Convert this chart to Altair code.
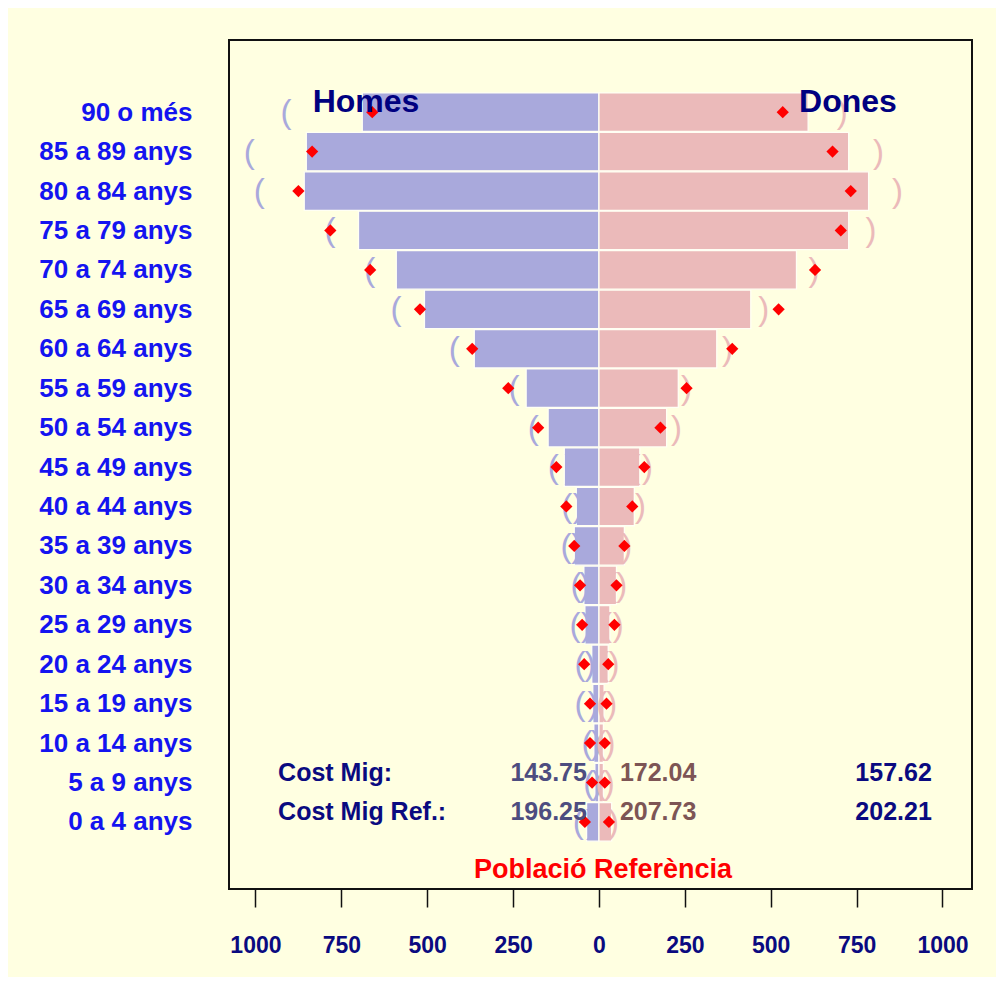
import json
import altair as alt
import pandas as pd

# ---- data (index 0 = "0 a 4 anys" ... 18 = "90 o més") ----
ages = ["0 a 4 anys", "5 a 9 anys", "10 a 14 anys", "15 a 19 anys", "20 a 24 anys",
        "25 a 29 anys", "30 a 34 anys", "35 a 39 anys", "40 a 44 anys", "45 a 49 anys",
        "50 a 54 anys", "55 a 59 anys", "60 a 64 anys", "65 a 69 anys", "70 a 74 anys",
        "75 a 79 anys", "80 a 84 anys", "85 a 89 anys", "90 o més"]

homes_bar = [36, 12, 15, 18, 21, 41, 44, 72, 66, 101, 148, 212, 363, 508, 590, 700, 858, 852, 689]
homes_ref = [41, 20, 26, 26, 43, 49, 55, 72, 95, 124, 177, 264, 369, 521, 666, 782, 875, 835, 660]
homes_lo = [22, 6, 8, 17, 26, 36, 41, 65, 60, 84, 118, 191, 322, 441, 531, 636, 754, 707, 489]
homes_hi = [60, 30, 35, 55, 55, 70, 67, 96, 94, 133, 191, 247, 421, 591, 667, 783, 989, 1018, 911]

dones_bar = [37, 13, 13, 15, 27, 32, 51, 74, 103, 119, 197, 231, 343, 442, 575, 727, 785, 727, 609]
dones_ref = [29, 17, 17, 22, 27, 45, 51, 74, 97, 132, 179, 255, 388, 523, 629, 704, 733, 680, 535]
dones_lo = [13, 5, 6, 8, 13, 22, 37, 59, 81, 105, 153, 202, 300, 393, 517, 655, 700, 626, 503]
dones_hi = [42, 30, 32, 37, 44, 56, 66, 81, 121, 141, 226, 255, 374, 480, 626, 792, 869, 814, 708]

tick_values = [-1000, -750, -500, -250, 0, 250, 500, 750, 1000]

cost_labels = ["Cost Mig:", "Cost Mig Ref.:"]
cost_homes = ["143.75", "196.25"]
cost_dones = ["172.04", "207.73"]
cost_total = ["157.62", "202.21"]

FONT = "Liberation Sans, Arial, sans-serif"
BG = "#FFFFE1"
NAVY = "#0A0A80"

n = len(ages)
rows = list(range(n))

bars_df = pd.DataFrame({
    "row": rows + rows,
    "val": [-v for v in homes_bar] + dones_bar,
    "sexe": ["Homes"] * n + ["Dones"] * n,
})
ref_df = pd.DataFrame({
    "row": rows + rows,
    "val": [-v for v in homes_ref] + dones_ref,
})
paren_df = pd.DataFrame({
    "row": rows * 4,
    "val": [-v for v in homes_hi] + [-v for v in homes_lo] + dones_lo + dones_hi,
    "ch": ["("] * n + [")"] * n + ["("] * n + [")"] * n,
    "sexe": ["Homes"] * (2 * n) + ["Dones"] * (2 * n),
})

xscale = alt.Scale(domain=[-1077, 1086], nice=False, zero=False, padding=0)
yscale = alt.Scale(domain=[-1.70, 19.83], nice=False, zero=False, padding=0)

label_expr = json.dumps(ages, ensure_ascii=False) + "[datum.value]"

xaxis = alt.Axis(
    values=tick_values, labelExpr="abs(datum.value)", title=None,
    grid=False, domain=False, tickSize=18, tickWidth=1.5, tickColor="#111111",
    labelFont=FONT, labelFontSize=23, labelFontWeight="bold", labelColor=NAVY,
    labelPadding=27, labelFlush=False, labelOverlap=False)
yaxis = alt.Axis(
    values=rows, labelExpr=label_expr, title=None, grid=False, domain=False,
    ticks=False, tickSize=0, labelPadding=37, labelFont=FONT, labelFontSize=26,
    labelFontWeight="bold", labelColor="#1414F0", labelLimit=400, labelOverlap=False)


def X(field):
    return alt.X(field, scale=xscale, axis=xaxis)


def Y(field):
    return alt.Y(field, scale=yscale, axis=yaxis)


bars = alt.Chart(bars_df).mark_bar(
    orient="horizontal", size=38.5, stroke="#FFFFF4", strokeWidth=1.3
).encode(
    x=X("val:Q"), y=Y("row:Q"),
    color=alt.Color("sexe:N", scale=alt.Scale(domain=["Homes", "Dones"],
                                              range=["#A9A9DC", "#EBBABA"]), legend=None),
)

parens = alt.Chart(paren_df).mark_text(
    font=FONT, fontSize=33, baseline="middle", align="center", dy=1
).encode(
    x=X("val:Q"), y=Y("row:Q"), text="ch:N",
    color=alt.Color("sexe:N", scale=alt.Scale(domain=["Homes", "Dones"],
                                              range=["#6262A2", "#A88282"]), legend=None),
)

diamonds = alt.Chart(ref_df).mark_point(
    shape="diamond", filled=True, size=150, color="#FF0000", opacity=1
).encode(x=X("val:Q"), y=Y("row:Q"))

# annotation texts
sex_df = pd.DataFrame({"x": [-678, 725], "y": [18, 18], "t": ["Homes", "Dones"]})
sex_txt = alt.Chart(sex_df).mark_text(
    font=FONT, fontSize=32, fontWeight="bold", color="#000080",
    baseline="alphabetic", align="center"
).encode(x=X("x:Q"), y=Y("y:Q"), text="t:N")

cost_y = [1.23, 0.26]
left_df = pd.DataFrame({"x": [-934, -934, 61, 61],
                        "y": cost_y + cost_y,
                        "t": cost_labels + cost_dones,
                        "c": [NAVY, NAVY, "#7D5555", "#7D5555"]})
right_df = pd.DataFrame({"x": [-35, -35, 969, 969],
                         "y": cost_y + cost_y,
                         "t": cost_homes + cost_total,
                         "c": ["#4D4D80", "#4D4D80", NAVY, NAVY]})
center_df = pd.DataFrame({"x": [12], "y": [-1.22], "t": ["Població Referència"], "c": ["#FF0000"]})


def txt(df, align, size=25):
    return alt.Chart(df).mark_text(
        font=FONT, fontSize=size, fontWeight="bold", baseline="middle", align=align
    ).encode(x=X("x:Q"), y=Y("y:Q"),
             text="t:N", color=alt.Color("c:N", scale=None))


chart = alt.layer(
    bars, parens, diamonds, sex_txt, txt(left_df, "left"), txt(right_df, "right"),
    txt(center_df, "center", 27)
).properties(
    width=743, height=849, background=BG,
    autosize=alt.AutoSizeParams(type="none"),
    padding={"left": 221, "top": 32, "right": 24, "bottom": 88},
).configure_view(
    stroke="#111111", strokeWidth=2, fill=BG
)

chart.save("out.html", embed_options={"renderer": "svg", "actions": False})
